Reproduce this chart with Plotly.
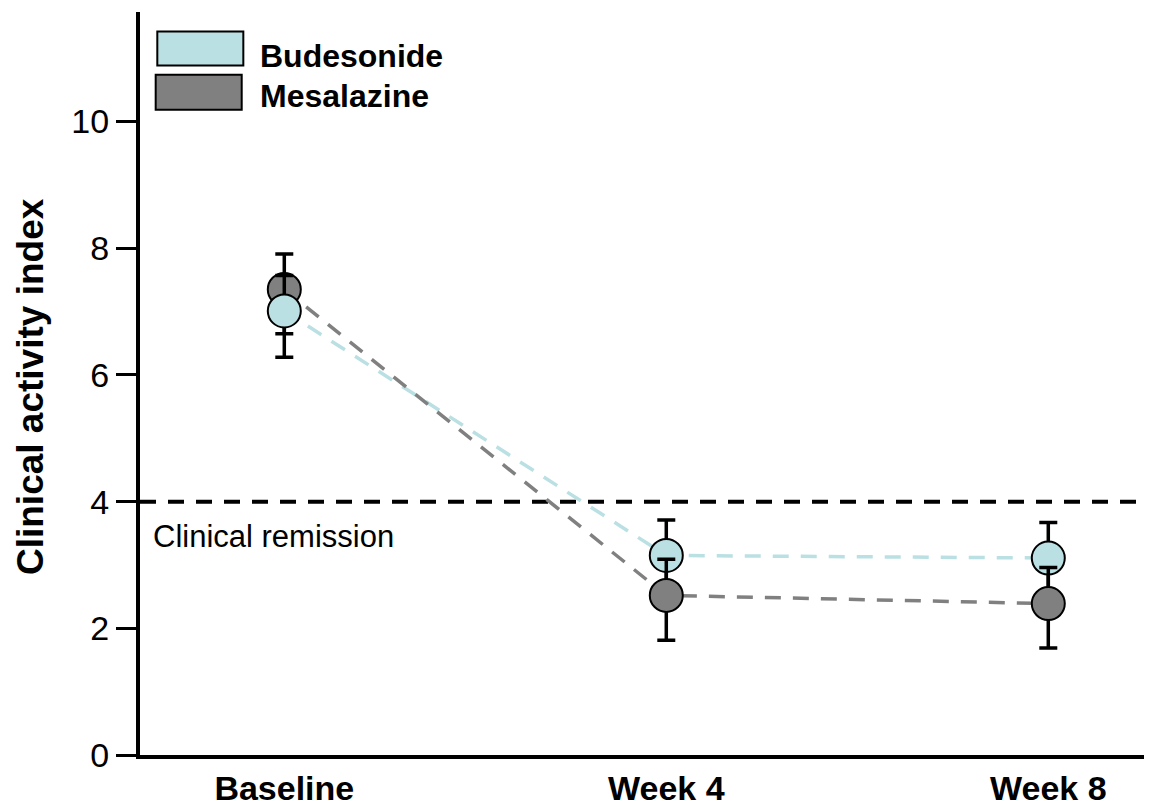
import plotly.graph_objects as go

# ---- data ----
timepoints = ["Baseline", "Week 4", "Week 8"]
weeks = [0, 4, 8]
series_names = ["Budesonide", "Mesalazine"]
bud_mean = [7.01, 3.15, 3.11]
bud_plus = [0.56, 0.56, 0.56]
bud_minus = [0.73, 0.71, 0.71]
mes_mean = [7.35, 2.52, 2.39]
mes_plus = [0.56, 0.57, 0.57]
mes_minus = [0.70, 0.71, 0.70]
remission_level = 4
remission_label = "Clinical remission"
y_ticks = [0, 2, 4, 6, 8, 10]

colors = {"Budesonide": "#bae0e3", "Mesalazine": "#808080"}
data = {
    "Budesonide": (bud_mean, bud_plus, bud_minus),
    "Mesalazine": (mes_mean, mes_plus, mes_minus),
}

FONT = "Liberation Sans, Arial, sans-serif"
fig = go.Figure()

# dashed connecting lines
for name in series_names:
    m = data[name][0]
    fig.add_trace(go.Scatter(
        x=weeks, y=m, mode="lines",
        line=dict(color=colors[name], width=3.5, dash="16px,12px"),
        showlegend=False, hoverinfo="skip"))

# points with error bars; lower mean drawn on top
for i in range(len(weeks)):
    order = sorted(series_names, key=lambda n: -data[n][0][i])
    for name in order:
        m, p, mn = data[name]
        fig.add_trace(go.Scatter(
            x=[weeks[i]], y=[m[i]], mode="markers",
            marker=dict(size=33, color=colors[name],
                        line=dict(color="black", width=2)),
            error_y=dict(type="data", symmetric=False,
                         array=[p[i]], arrayminus=[mn[i]],
                         color="black", thickness=3.5, width=9),
            showlegend=False, name=name))

# remission line
fig.add_shape(type="line", xref="paper", yref="y", x0=0, x1=1,
              y0=remission_level, y1=remission_level,
              line=dict(color="black", width=4, dash="16px,12px"),
              layer="below")
fig.add_annotation(xref="paper", yref="y", x=0.011, y=3.45,
                   text=remission_label, showarrow=False,
                   xanchor="left", yanchor="middle",
                   font=dict(family=FONT, size=31, color="black"))

# legend (drawn manually)
leg_boxes = [(0.0171, 0.1021, 0.9279, 0.9736), (0.0155, 0.1005, 0.8685, 0.9154)]
leg_text_y = [0.9412, 0.8875]
for name, (x0, x1, y0, y1), ty in zip(series_names, leg_boxes, leg_text_y):
    fig.add_shape(type="rect", xref="paper", yref="paper",
                  x0=x0, x1=x1, y0=y0, y1=y1,
                  fillcolor=colors[name], line=dict(color="black", width=2))
    fig.add_annotation(xref="paper", yref="paper", x=0.1166, y=ty,
                       text="<b>%s</b>" % name, showarrow=False,
                       xanchor="left", yanchor="middle",
                       font=dict(family=FONT, size=32, color="black"))

# y-axis title
fig.add_annotation(xref="paper", yref="paper", x=-0.1087, y=0.4966,
                   text="<b>Clinical activity index</b>", textangle=-90,
                   showarrow=False, xanchor="center", yanchor="middle",
                   font=dict(family=FONT, size=37, color="black"))

fig.update_layout(
    width=1144, height=799,
    margin=dict(l=132, r=0, t=4, b=42),
    paper_bgcolor="white", plot_bgcolor="white",
    font=dict(family=FONT, color="black"),
    showlegend=False,
    xaxis=dict(range=[-1.511, 9.086], tickvals=weeks, ticktext=["<b>%s</b>" % t for t in timepoints],
               showgrid=False, zeroline=False, showline=True, linecolor="black",
               linewidth=4, ticks="", tickfont=dict(size=34, family=FONT)),
    yaxis=dict(range=[0, 11.73], tickvals=y_ticks, showgrid=False, zeroline=False,
               showline=True, linecolor="black", linewidth=4, ticks="outside",
               ticklen=20, tickwidth=2.5, tickcolor="black",
               tickfont=dict(size=34, family=FONT)),
)

fig.write_html("out.html")
